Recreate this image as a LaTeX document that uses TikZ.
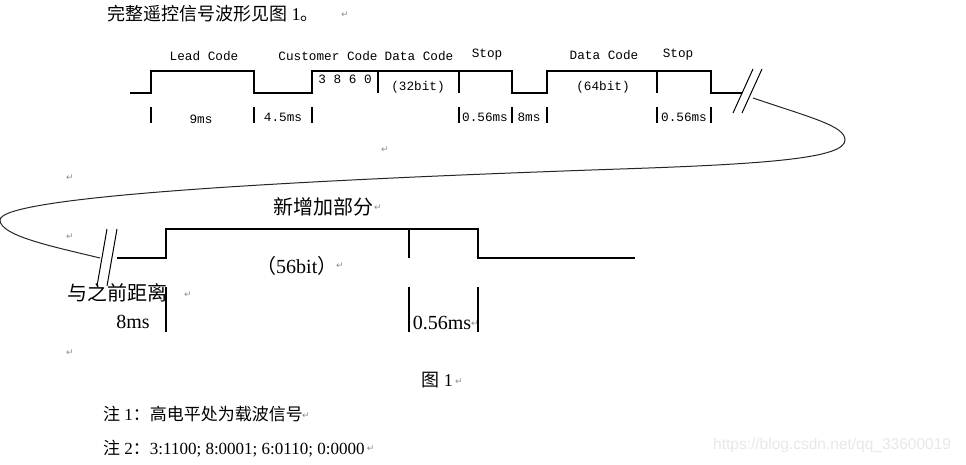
\documentclass[tikz,border=0pt]{standalone}
\usepackage{fontspec}
\setmainfont{Liberation Serif}
\newfontfamily\cjk{Noto Sans CJK SC}
\newfontfamily\wfmono{Liberation Mono}
\newfontfamily\symf{DejaVu Sans}
\newfontfamily\wmfont{Liberation Sans}
\begin{document}
\begin{tikzpicture}[x=1pt,y=-1pt,
  wave/.style={line width=1.6pt, line join=miter},
  bwave/.style={line width=1.5pt, line join=miter},
  tickline/.style={line width=1.5pt},
  slash/.style={line width=1pt},
  curveline/.style={line width=1pt, black!85},
  wtxt/.style={font={\fontsize{12.7}{15}\selectfont\wfmono}, inner sep=0},
  btxt/.style={font={\fontsize{20}{24}\selectfont}, inner sep=0},
  pmark/.style={font={\fontsize{9}{10}\selectfont\symf}, text=black!45, inner sep=0},
]
\useasboundingbox[fill=white] (0,0) rectangle (966,464);

% title
\node[anchor=west, inner sep=0, font={\fontsize{18}{20}\selectfont}] (title) at (107,14)
  {{\cjk 完整遥控信号波形见图} 1{\cjk 。}};
\node[pmark] (pm1) at (345,15) {↵};

% ---------- top waveform ----------
\draw[wave] (130,93) -- (151,93) -- (151,71) -- (254,71) -- (254,93) -- (312,93)
  -- (312,71) -- (512,71) -- (512,93) -- (547,93) -- (547,71) -- (711,71)
  -- (711,93) -- (742,93);
\foreach \x in {378,459,657} \draw[tickline] (\x,71) -- (\x,93);
\foreach \x in {151,254,312,459,512,547,657,711} \draw[tickline] (\x,107) -- (\x,123);

\node[wtxt] (lead) at (204,56) {Lead Code};
\node[wtxt] (cust) at (328,56) {Customer Code};
\node[wtxt] (data1) at (419,56) {Data Code};
\node[wtxt] (stop1) at (487,55) {Stop};
\node[wtxt] (data2) at (604,55) {Data Code};
\node[wtxt] (stop2) at (678,55) {Stop};
\node[wtxt] (c3860) at (345,79) {3 8 6 0};
\node[wtxt] (b32) at (418,87) {(32bit)};
\node[wtxt] (b64) at (603,87) {(64bit)};
\node[wtxt] (t9) at (201,119) {9ms};
\node[wtxt] (t45) at (283,117) {4.5ms};
\node[wtxt] (t056a) at (485,117) {0.56ms};
\node[wtxt] (t8) at (529,117) {8ms};
\node[wtxt] (t056b) at (684,117) {0.56ms};

% break slashes (top)
\draw[slash] (733,113) -- (753,69);
\draw[slash] (742,113) -- (762,69);

% connecting curve
\draw[curveline] (753,98) .. controls (812,118) and (845,126) .. (845,140)
  .. controls (845,158) and (770,164) .. (620,169)
  .. controls (300,180) and (0,196) .. (0,220)
  .. controls (0,236) and (55,247) .. (100,258);

\node[pmark] (pm2) at (385,150) {↵};
\node[pmark] (pm3) at (70,178) {↵};
\node[pmark] (pm4) at (70,237) {↵};

% ---------- bottom waveform ----------
\draw[slash] (107,229) -- (97,286);
\draw[slash] (117,229) -- (107,286);
\draw[bwave] (117,258) -- (166,258) -- (166,229) -- (478,229) -- (478,258) -- (635,258);
\draw[line width=1.3pt] (409,229) -- (409,258);
\foreach \x in {166,409,478} \draw[line width=1.3pt] (\x,287) -- (\x,332);

\node[btxt] (newpart) at (323,207) {\cjk 新增加部分};
\node[pmark] (pm5) at (378,208) {↵};
\node[btxt, anchor=west] (b56) at (256,266) {{\cjk （}56bit{\cjk ）}};
\node[pmark] (pm6) at (340,266) {↵};
\node[btxt] (dist) at (117,293) {\cjk 与之前距离};
\node[pmark] (pm7) at (188,295) {↵};
\node[btxt] (t8b) at (133,322) {8ms};
\node[btxt] (t056c) at (442,323) {0.56ms};
\node[pmark] (pm8) at (475,324) {↵};
\node[pmark] (pm9) at (70,353) {↵};

% caption and notes
\node[inner sep=0, font={\fontsize{18}{20}\selectfont}] (fig) at (437,380) {{\cjk 图} 1};
\node[pmark] (pm10) at (459,382) {↵};
\node[anchor=west, inner sep=0, font={\fontsize{17}{19}\selectfont}] (note1) at (103,414)
  {{\cjk 注} 1{\cjk ：高电平处为载波信号}};
\node[pmark] (pm11) at (306,416) {↵};
\node[anchor=west, inner sep=0, font={\fontsize{17}{19}\selectfont}] (note2) at (103,449)
  {{\cjk 注} 2{\cjk ：}3:1100; 8:0001; 6:0110; 0:0000};
\node[pmark, anchor=west] (pm12) at ([xshift=2pt]note2.east) {↵};

% watermark
\node[anchor=west, inner sep=0, text=black!9, font={\fontsize{15.5}{17}\selectfont\wmfont}] (wm) at (713,445)
  {https://blog.csdn.net/qq\_33600019};
\end{tikzpicture}
\end{document}
